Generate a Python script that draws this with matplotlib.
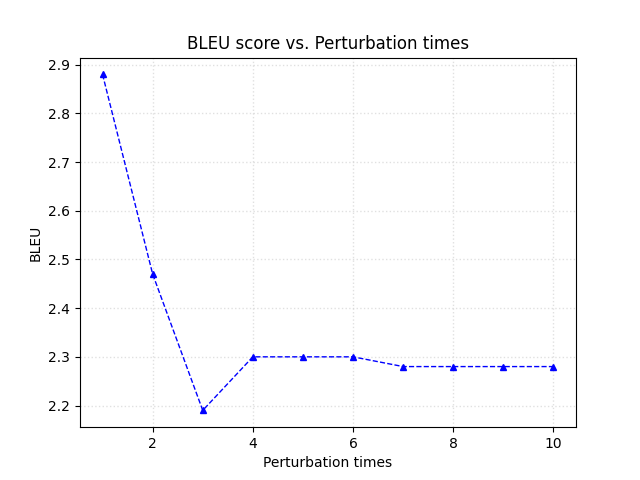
import matplotlib
matplotlib.use("Agg")
import matplotlib.pyplot as plt

perturbation_times = [1, 2, 3, 4, 5, 6, 7, 8, 9, 10]
bleu_scores = [2.88, 2.47, 2.19, 2.30, 2.30, 2.30, 2.28, 2.28, 2.28, 2.28]

fig, ax = plt.subplots(figsize=(6.4, 4.8), dpi=100)
ax.plot(perturbation_times, bleu_scores, "b^--", linewidth=1, markersize=5)
ax.set_xlabel("Perturbation times")
ax.set_ylabel("BLEU")
ax.set_title("BLEU score vs. Perturbation times")
ax.grid(True, linestyle=":", linewidth=1, color="#cccccc", alpha=0.6)
fig.savefig("out.png", dpi=100)
